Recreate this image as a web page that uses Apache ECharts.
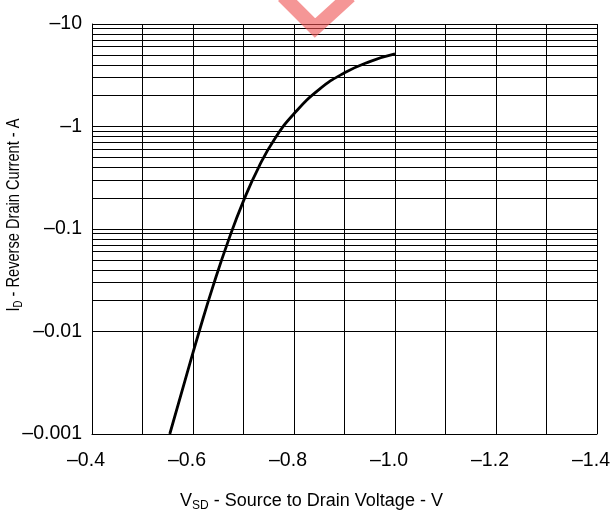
<!DOCTYPE html>
<html>
<head>
<meta charset="utf-8">
<script src="https://cdn.jsdelivr.net/npm/echarts@6/dist/echarts.min.js"></script>
<style>
  html, body { margin: 0; padding: 0; background: #fff; }
  #chart { width: 613px; height: 512px; }
</style>
</head>
<body>
<div id="chart"></div>
<script>
// 反向二极管曲线 (Vsd - Id)
var voltage = [-0.554, -0.584, -0.614, -0.64, -0.67, -0.70, -0.73, -0.762, -0.80, -0.85, -0.90, -0.95, -1.0];
var current = [-0.001, -0.0033, -0.0107, -0.028, -0.077, -0.188, -0.40, -0.76, -1.33, -2.3, -3.34, -4.3, -5.1];

var xTicks = [-0.4, -0.6, -0.8, -1.0, -1.2, -1.4];
var yTicks = [-0.001, -0.01, -0.1, -1, -10];

var font = 'Liberation Sans, Arial, sans-serif';

// 对数轴上的细分线 2..9
var minorLines = [];
for (var d = 0; d < yTicks.length - 1; d++) {
    var base = Math.abs(yTicks[d]);
    for (var k = 2; k <= 9; k++) {
        minorLines.push({ yAxis: +(base * k).toPrecision(3) });
    }
}

var chart = echarts.init(document.getElementById('chart'));
var option = {
    backgroundColor: '#fff',
    animation: false,
    grid: { left: 92, right: 16, top: 24, bottom: 78, outerBoundsMode: 'none', containLabel: false },
    xAxis: {
        type: 'value',
        min: xTicks[xTicks.length - 1],
        max: xTicks[0],
        interval: 0.1,
        inverse: true,
        axisLine: { show: true, lineStyle: { color: '#000', width: 1 } },
        axisTick: { show: false },
        axisLabel: {
            color: '#000', fontSize: 19.5, fontFamily: font, margin: 17,
            padding: [0, 12, 0, 0],
            formatter: function (v) {
                var n = Math.round(v * 10);
                if (n % 2 !== 0) return '';
                return '\u2013' + Math.abs(v).toFixed(1);
            }
        },
        splitLine: { show: true, lineStyle: { color: '#000', width: 1 } },
        name: '{m|V}{s|SD}{m| - Source to Drain Voltage - V}',
        nameLocation: 'middle',
        nameGap: 58,
        nameTextStyle: {
            padding: [0, 66, 0, 0],
            rich: {
                m: { fontSize: 18, fontFamily: font, color: '#000' },
                s: { fontSize: 12, fontFamily: font, color: '#000', verticalAlign: 'bottom', padding: [0, 0, -2, 0] }
            }
        }
    },
    yAxis: {
        type: 'log',
        logBase: 10,
        min: Math.abs(yTicks[0]),
        max: Math.abs(yTicks[yTicks.length - 1]),
        axisLine: { show: true, lineStyle: { color: '#000', width: 1 } },
        axisTick: { show: false },
        axisLabel: {
            color: '#000', fontSize: 19.5, fontFamily: font, margin: 10,
            formatter: function (v) { return '\u2013' + (+v.toPrecision(3)); }
        },
        splitLine: { show: true, lineStyle: { color: '#000', width: 1 } }
    },
    series: [{
        type: 'line',
        data: voltage.map(function (v, i) { return [v, Math.abs(current[i])]; }),
        smooth: 0.5,
        showSymbol: false,
        lineStyle: { color: '#000', width: 2.8 },
        markLine: {
            silent: true,
            symbol: 'none',
            label: { show: false },
            lineStyle: { color: '#000', width: 1, type: 'solid' },
            data: minorLines
        },
        z: 3
    }],
    graphic: [{
        type: 'text',
        x: 13.5,
        y: 215,
        rotation: Math.PI / 2,
        scaleX: 0.77,
        style: {
            text: '{m|I}{s|D}{m| - Reverse Drain Current - A}',
            align: 'center',
            verticalAlign: 'middle',
            rich: {
                m: { fontSize: 19, fontFamily: font, fill: '#000' },
                s: { fontSize: 12.5, fontFamily: font, fill: '#000', verticalAlign: 'bottom', padding: [0, 0, -2, 0] }
            }
        }
    }, {
        type: 'polyline',
        shape: { points: [[283, -4], [315, 28], [350, -4]] },
        style: { stroke: 'rgba(238,80,80,0.6)', lineWidth: 14, fill: null },
        z: 100
    }]
};
chart.setOption(option);
</script>
</body>
</html>
